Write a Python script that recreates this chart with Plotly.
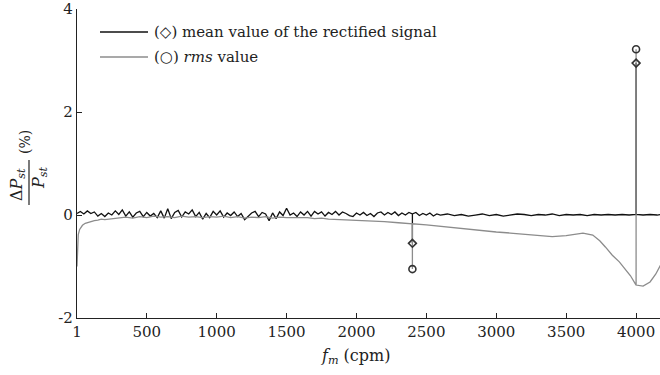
import plotly.graph_objects as go

# ---------------- data ----------------
# mean value of the rectified signal (base curve, %)
mean_x = [1] + list(range(25, 2601, 25)) + list(range(2650, 4151, 50)) + [4175]
mean_y = [
    0.03, 0.07, 0.02, 0.08, 0.03, 0.06, -0.02, 0.03, -0.03, 0.04,
    0.00, 0.08, 0.01, 0.10, -0.02, 0.06, -0.04, 0.04, 0.07, -0.03,
    0.05, -0.02, 0.03, -0.05, 0.08, -0.06, 0.12, -0.07, 0.05, 0.09,
    -0.04, 0.06, 0.02, 0.10, -0.03, 0.05, -0.08, 0.03, -0.05, 0.07,
    0.00, 0.08, -0.04, 0.04, -0.01, 0.06, -0.03, 0.03, -0.09, -0.03,
    0.04, 0.07, -0.03, 0.05, 0.02, -0.11, 0.04, -0.07, 0.06, -0.01,
    0.13, 0.00, 0.04, -0.03, 0.06, 0.00, 0.07, -0.02, 0.07, 0.02,
    0.06, -0.02, 0.05, 0.01, 0.07, 0.00, 0.06, 0.03, -0.01, -0.03,
    0.04, 0.00, 0.05, -0.01, 0.03, -0.03, 0.04, 0.06, 0.00, 0.05,
    0.01, 0.06, -0.01, 0.04, 0.00, 0.05, 0.02, 0.05, -0.01, 0.03,
    0.00, 0.04, -0.02, 0.02, 0.00,
    0.02, -0.01, 0.01, -0.02, 0.00, 0.02, -0.01, 0.01, -0.02, 0.00,
    0.02, 0.01, -0.01, 0.01, 0.00, 0.02, -0.01, 0.01, 0.00, 0.01,
    -0.01, 0.01, 0.00, 0.01, 0.00, 0.01, 0.00, 0.01, 0.00, 0.01,
    0.00, 0.01,
]

# rms value (base curve, %)
rms_x = [1, 5, 10, 20, 40, 60, 80, 100, 125, 150, 175, 200, 250, 300, 350, 400,
         450, 500, 550, 600, 650, 700, 750, 800, 850, 900, 950, 1000, 1050, 1100,
         1150, 1200, 1250, 1300, 1350, 1400, 1450, 1500, 1550, 1600, 1650, 1700,
         1750, 1800, 1900, 2000, 2100, 2200, 2300, 2400, 2500, 2600, 2700, 2800,
         2900, 3000, 3100, 3200, 3300, 3400, 3500, 3560, 3620, 3690, 3740, 3780,
         3830, 3880, 3920, 3960, 4000, 4050, 4100, 4140, 4175]
rms_y = [-1.00, -0.55, -0.38, -0.28, -0.20, -0.16, -0.14, -0.12, -0.11, -0.10,
         -0.08, -0.09, -0.07, -0.05, -0.04, -0.06, -0.03, -0.05, -0.02, -0.04,
         -0.03, -0.05, -0.02, -0.04, -0.03, -0.05, -0.03, -0.04, -0.02, -0.05,
         -0.03, -0.06, -0.04, -0.05, -0.03, -0.06, -0.04, -0.05, -0.05, -0.06,
         -0.05, -0.07, -0.06, -0.08, -0.09, -0.10, -0.12, -0.13, -0.15, -0.17,
         -0.19, -0.22, -0.25, -0.27, -0.30, -0.33, -0.35, -0.37, -0.40, -0.42,
         -0.40, -0.37, -0.35, -0.39, -0.50, -0.62, -0.78, -0.91, -1.05, -1.18,
         -1.36, -1.38, -1.30, -1.15, -0.97]

# peaks at the disturbance frequencies
spike_x = [2400, 4000]
mean_peak = [-0.55, 2.95]
rms_peak = [-1.05, 3.22]

x_ticks = [1, 500, 1000, 1500, 2000, 2500, 3000, 3500, 4000]
y_ticks = [-2, 0, 2, 4]
legend_labels = ["(\u25c7) mean value of the rectified signal", "(\u25cb) <i>rms</i> value"]


def with_spikes(xs, ys, sxs, peaks):
    ox, oy = [], []
    for x, y in zip(xs, ys):
        ox.append(x)
        oy.append(y)
        if x in sxs:
            p = peaks[sxs.index(x)]
            ox += [x, x]
            oy += [p, y]
    return ox, oy


mx, my = with_spikes(mean_x, mean_y, spike_x, mean_peak)
rx, ry = with_spikes(rms_x, rms_y, spike_x, rms_peak)

FONT = "DejaVu Serif"
BLACK = "#111111"
GRAY = "#8c8c8c"
TXT = "#222222"

fig = go.Figure()
fig.add_trace(go.Scatter(x=mx, y=my, mode="lines", line=dict(color=BLACK, width=1.3),
                         showlegend=False, hoverinfo="skip"))
fig.add_trace(go.Scatter(x=rx, y=ry, mode="lines", line=dict(color=GRAY, width=1.3),
                         showlegend=False, hoverinfo="skip"))
fig.add_trace(go.Scatter(x=spike_x, y=mean_peak, mode="markers",
                         marker=dict(symbol="diamond-open", size=6, color="#333333",
                                     line=dict(width=1.6, color="#333333")),
                         showlegend=False))
fig.add_trace(go.Scatter(x=spike_x, y=rms_peak, mode="markers",
                         marker=dict(symbol="circle-open", size=7, color="#333333",
                                     line=dict(width=1.6, color="#333333")),
                         showlegend=False))

L, R, T, B = 77, 0, 9, 57
W, H = 660, 375
pw, ph = W - L - R, H - T - B


def px(x):
    return (x - L) / pw


def py(y):
    return (H - B - y) / ph


axis_common = dict(ticks="inside", ticklen=5, tickcolor=TXT, showgrid=False,
                   zeroline=False, showline=True, linecolor=TXT, linewidth=1.3,
                   tickfont=dict(family=FONT, size=15, color=TXT))

fig.update_layout(
    width=W, height=H,
    margin=dict(l=L, r=R, t=T, b=B, pad=0),
    paper_bgcolor="white", plot_bgcolor="white",
    font=dict(family=FONT, size=15, color=TXT),
    showlegend=False,
    xaxis=dict(range=[1, 4171], tickvals=x_ticks, ticktext=[str(v) for v in x_ticks],
               **axis_common),
    yaxis=dict(range=[-2.0, 4.001], tickvals=y_ticks, ticktext=[str(v) for v in y_ticks],
               **axis_common),
)

# manual legend
for i, (lab, col) in enumerate(zip(legend_labels, [BLACK, GRAY])):
    yy = [32, 57][i]
    fig.add_shape(type="line", xref="paper", yref="paper",
                  x0=px(100), x1=px(148), y0=py(yy), y1=py(yy),
                  line=dict(color=col, width=1.4))
    fig.add_annotation(text=lab, xref="paper", yref="paper", x=px(152), y=py(yy),
                       xanchor="left", yanchor="middle", showarrow=False,
                       font=dict(family=FONT, size=15, color=TXT))

# y-axis title as a fraction
fig.add_annotation(text="\u0394<i>P</i><sub><i>st</i></sub>", xref="paper", yref="paper",
                   x=px(17), y=py(185), textangle=-90, showarrow=False,
                   xanchor="center", yanchor="middle", font=dict(family=FONT, size=16, color=TXT))
fig.add_annotation(text="<i>P</i><sub><i>st</i></sub>", xref="paper", yref="paper",
                   x=px(39), y=py(178), textangle=-90, showarrow=False,
                   xanchor="center", yanchor="middle", font=dict(family=FONT, size=16, color=TXT))
fig.add_shape(type="line", xref="paper", yref="paper", x0=px(29), x1=px(29),
              y0=py(205), y1=py(160), line=dict(color=TXT, width=1.2))
fig.add_annotation(text="(%)", xref="paper", yref="paper", x=px(25), y=py(142),
                   textangle=-90, showarrow=False, xanchor="center", yanchor="middle",
                   font=dict(family=FONT, size=14, color=TXT))

# x-axis title
fig.add_annotation(text="<i>f</i><sub><i>m</i></sub> (cpm)", xref="paper", yref="paper",
                   x=px(355), y=py(356), showarrow=False, xanchor="center",
                   yanchor="middle", font=dict(family=FONT, size=16, color=TXT))

fig.write_html("out.html", config={"displayModeBar": False},
               post_script="document.body.style.margin='0';document.body.style.overflow='hidden';")
